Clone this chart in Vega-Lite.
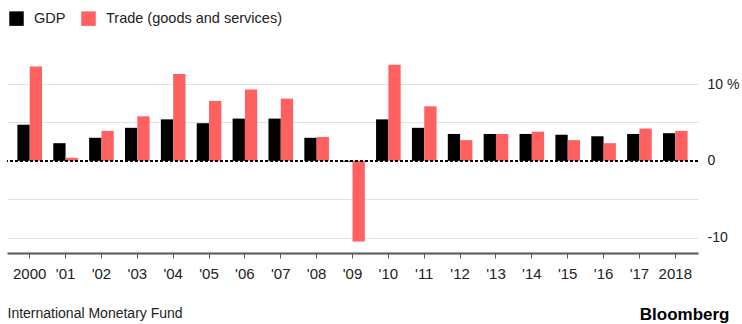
{
  "$schema": "https://vega.github.io/schema/vega-lite/v6.json",
  "width": 691,
  "height": 192,
  "autosize": {"type": "none"},
  "padding": {"left": 7, "top": 61, "right": 44, "bottom": 71},
  "background": "white",
  "config": {
    "view": {"stroke": null},
    "font": "Liberation Sans",
    "legend": {
      "orient": "none",
      "legendX": 2,
      "legendY": -50,
      "direction": "horizontal",
      "padding": 0,
      "symbolType": "square",
      "symbolSize": 210,
      "symbolStrokeWidth": 0,
      "symbolOpacity": 1,
      "labelFontSize": 14.5,
      "labelColor": "#222222",
      "labelOffset": 10,
      "columnPadding": 15,
      "labelLimit": 400
    }
  },
  "data": {
    "values": [
      {"year": "2000", "series": "GDP", "value": 4.7},
      {"year": "2000", "series": "Trade (goods and services)", "value": 12.3},
      {"year": "'01", "series": "GDP", "value": 2.3},
      {"year": "'01", "series": "Trade (goods and services)", "value": 0.4},
      {"year": "'02", "series": "GDP", "value": 3.0},
      {"year": "'02", "series": "Trade (goods and services)", "value": 3.9},
      {"year": "'03", "series": "GDP", "value": 4.3},
      {"year": "'03", "series": "Trade (goods and services)", "value": 5.8},
      {"year": "'04", "series": "GDP", "value": 5.4},
      {"year": "'04", "series": "Trade (goods and services)", "value": 11.3},
      {"year": "'05", "series": "GDP", "value": 4.9},
      {"year": "'05", "series": "Trade (goods and services)", "value": 7.8},
      {"year": "'06", "series": "GDP", "value": 5.5},
      {"year": "'06", "series": "Trade (goods and services)", "value": 9.3},
      {"year": "'07", "series": "GDP", "value": 5.5},
      {"year": "'07", "series": "Trade (goods and services)", "value": 8.1},
      {"year": "'08", "series": "GDP", "value": 3.0},
      {"year": "'08", "series": "Trade (goods and services)", "value": 3.1},
      {"year": "'09", "series": "GDP", "value": -0.1},
      {"year": "'09", "series": "Trade (goods and services)", "value": -10.5},
      {"year": "'10", "series": "GDP", "value": 5.4},
      {"year": "'10", "series": "Trade (goods and services)", "value": 12.5},
      {"year": "'11", "series": "GDP", "value": 4.3},
      {"year": "'11", "series": "Trade (goods and services)", "value": 7.1},
      {"year": "'12", "series": "GDP", "value": 3.5},
      {"year": "'12", "series": "Trade (goods and services)", "value": 2.7},
      {"year": "'13", "series": "GDP", "value": 3.5},
      {"year": "'13", "series": "Trade (goods and services)", "value": 3.5},
      {"year": "'14", "series": "GDP", "value": 3.5},
      {"year": "'14", "series": "Trade (goods and services)", "value": 3.8},
      {"year": "'15", "series": "GDP", "value": 3.4},
      {"year": "'15", "series": "Trade (goods and services)", "value": 2.7},
      {"year": "'16", "series": "GDP", "value": 3.2},
      {"year": "'16", "series": "Trade (goods and services)", "value": 2.3},
      {"year": "'17", "series": "GDP", "value": 3.5},
      {"year": "'17", "series": "Trade (goods and services)", "value": 4.2},
      {"year": "2018", "series": "GDP", "value": 3.6},
      {"year": "2018", "series": "Trade (goods and services)", "value": 3.9}
    ]
  },
  "layer": [
    {
      "mark": {"type": "bar"},
      "encoding": {
        "x": {
          "field": "year",
          "type": "nominal",
          "sort": null,
          "scale": {"paddingInner": 0.314, "paddingOuter": 0.29},
          "axis": {
            "title": "International Monetary Fund",
            "titleFontSize": 14,
            "titleFontWeight": "normal",
            "titleColor": "#222222",
            "titleAnchor": "start",
            "titleAlign": "left",
            "titleBaseline": "alphabetic",
            "titleX": 0,
            "titleY": 64,
            "labelAngle": 0,
            "labelFontSize": 15,
            "labelColor": "#222222",
            "labelPadding": 8,
            "domainColor": "#555555",
            "domainWidth": 2,
            "tickColor": "#555555",
            "tickSize": 5,
            "tickWidth": 1,
            "grid": false
          }
        },
        "xOffset": {
          "field": "series",
          "type": "nominal",
          "sort": ["GDP", "Trade (goods and services)"],
          "scale": {"paddingInner": 0, "paddingOuter": 0}
        },
        "y": {
          "field": "value",
          "type": "quantitative",
          "scale": {"domain": [-12, 13], "nice": false, "zero": false},
          "axis": {
            "orient": "right",
            "values": [-10, -5, 0, 5, 10],
            "labelExpr": "datum.value === 10 ? '10 %' : (datum.value === 0 ? '0' : (datum.value === -10 ? '-10' : ''))",
            "labelFontSize": 14,
            "labelColor": "#222222",
            "labelAlign": "left",
            "labelBaseline": "middle",
            "labelPadding": 9,
            "domain": false,
            "ticks": false,
            "grid": true,
            "gridColor": {"condition": {"test": "datum.value === 0", "value": "transparent"}, "value": "#e2e2e2"},
            "gridWidth": 1,
            "title": "Bloomberg",
            "titleAngle": 0,
            "titleFontSize": 17,
            "titleFontWeight": "bold",
            "titleColor": "#000000",
            "titleAlign": "right",
            "titleBaseline": "alphabetic",
            "titleX": 31,
            "titleY": 258
          }
        },
        "color": {
          "field": "series",
          "type": "nominal",
          "sort": ["GDP", "Trade (goods and services)"],
          "scale": {"domain": ["GDP", "Trade (goods and services)"], "range": ["#000000", "#ff6161"]},
          "legend": {"title": null}
        }
      }
    },
    {
      "mark": {"type": "rule", "color": "#000000", "strokeDash": [3, 2], "strokeWidth": 1.5},
      "encoding": {"y": {"datum": 0}}
    }
  ]
}
